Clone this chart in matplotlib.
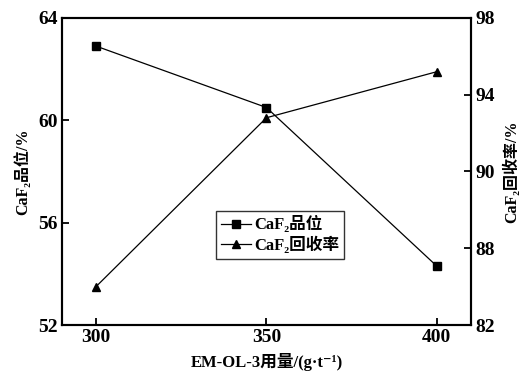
import matplotlib
matplotlib.use("Agg")
import matplotlib.pyplot as plt

# dosage of EM-OL-3 (g/t)
dosage = [300, 350, 400]
# CaF2 grade (%), left axis
grade = [62.9, 60.5, 54.3]
# CaF2 recovery (%), right axis
recovery = [84.0, 92.8, 95.2]

left_ticks = [52, 56, 60, 64]
right_ticks = [82, 86, 90, 94, 98]
right_tick_labels = ["82", "88", "90", "94", "98"]

plt.rcParams["font.family"] = ["Liberation Serif", "Noto Sans CJK SC", "DejaVu Serif"]
plt.rcParams["font.weight"] = "bold"
plt.rcParams["axes.labelweight"] = "bold"

fig = plt.figure(figsize=(5.25, 3.74), dpi=100)
ax = fig.add_axes([0.118, 0.131, 0.779, 0.821])
ax2 = ax.twinx()

l1, = ax.plot(dosage, grade, color="black", lw=0.9, marker="s", ms=5.5,
              label="CaF\u2082品位")
l2, = ax2.plot(dosage, recovery, color="black", lw=0.9, marker="^", ms=6,
               label="CaF\u2082回收率")

ax.set_xlim(290, 410)
ax.set_ylim(52, 64)
ax2.set_ylim(82, 98)
ax.set_xticks(dosage)
ax.set_yticks(left_ticks)
ax2.set_yticks(right_ticks)
ax2.set_yticklabels(right_tick_labels)

for a in (ax, ax2):
    for s in a.spines.values():
        s.set_linewidth(1.5)
    a.tick_params(direction="in", length=5, width=1.3, labelsize=14, pad=3)
ax.tick_params(axis="y", right=False)
ax2.tick_params(axis="y", left=False)

ax.set_xlabel("EM-OL-3用量/(g·t\u207b\u00b9)", fontsize=12, labelpad=5)
ax.set_ylabel("CaF\u2082品位/%", fontsize=11.5, labelpad=5)
ax2.set_ylabel("CaF\u2082回收率/%", fontsize=11.5, labelpad=6)

leg = ax.legend(handles=[l1, l2], loc="lower left", bbox_to_anchor=(0.377, 0.215),
                borderaxespad=0, fontsize=12, frameon=True, fancybox=False,
                handlelength=1.8, handletextpad=0.2, borderpad=0.3,
                labelspacing=0.2)
leg.get_frame().set_edgecolor("black")
leg.get_frame().set_linewidth(1.0)

fig.savefig("out.png", dpi=100)
